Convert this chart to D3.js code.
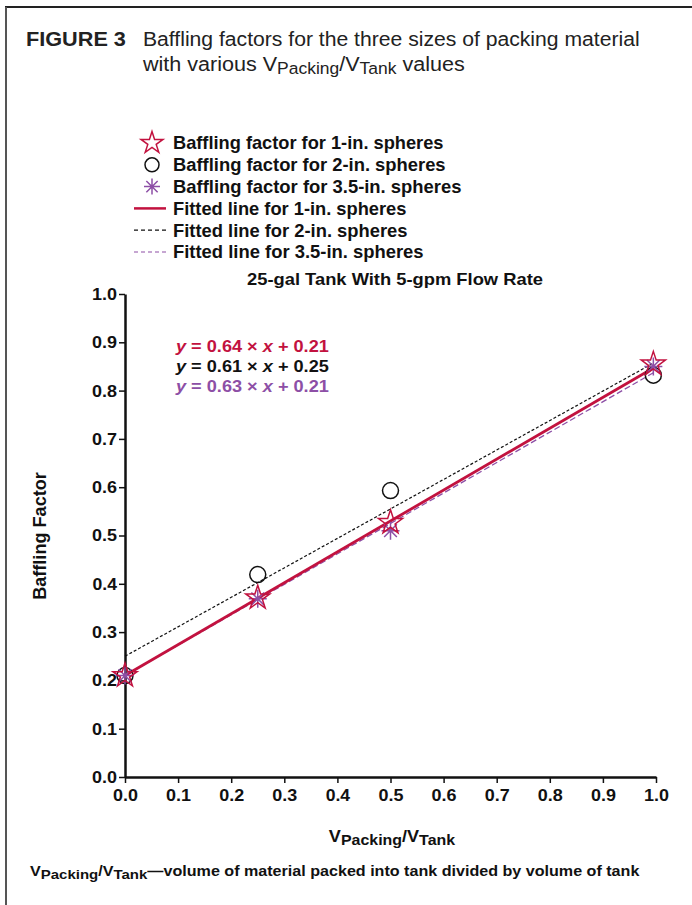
<!DOCTYPE html>
<html>
<head>
<meta charset="utf-8">
<script src="https://cdn.jsdelivr.net/npm/d3@7"></script>
<style>
  html, body { margin: 0; padding: 0; background: #fff; }
  svg { display: block; font-family: "Liberation Sans", Arial, Helvetica, sans-serif; }
</style>
</head>
<body>
<svg id="chart" width="692" height="905"></svg>
<script>
// Packing volume fractions (V_Packing / V_Tank)
const fractions = [0, 0.25, 0.5, 0.995];
// Measured baffling factors per sphere size
const bf1in  = [0.21, 0.371, 0.527, 0.855];
const bf2in  = [0.21, 0.419, 0.593, 0.832];
const bf35in = [0.21, 0.369, 0.510, 0.850];
// Fitted line coefficients [slope, intercept]
const fit1in  = [0.64, 0.21];
const fit2in  = [0.61, 0.25];
const fit35in = [0.63, 0.21];
const xTicks = [0, 0.1, 0.2, 0.3, 0.4, 0.5, 0.6, 0.7, 0.8, 0.9, 1.0];
const yTicks = [0, 0.1, 0.2, 0.3, 0.4, 0.5, 0.6, 0.7, 0.8, 0.9, 1.0];

const RED = "#c2123f";
const PURPLE = "#8d4fa6";
const BLACK = "#111";

const svg = d3.select("#chart");

// Widen a text element horizontally (the typeface is set wide) around an anchor x.
function widen(sel, width, ax) {
  const w = sel.node().getBBox().width;
  const k = width / w;
  sel.attr("transform", `translate(${ax},0) scale(${k},1) translate(${-ax},0)`);
  return sel;
}

// frame
svg.append("line").attr("x1", 5).attr("x2", 692).attr("y1", 7).attr("y2", 7)
  .attr("stroke", "#222").attr("stroke-width", 2);
svg.append("line").attr("x1", 6).attr("x2", 6).attr("y1", 7).attr("y2", 905)
  .attr("stroke", "#555").attr("stroke-width", 2);

// figure caption
const capA = svg.append("text").attr("x", 26).attr("y", 46).attr("font-size", 21)
  .attr("font-weight", "bold").attr("fill", "#222").text("FIGURE 3");
widen(capA, 100, 26);
const capB = svg.append("text").attr("x", 143).attr("y", 46).attr("font-size", 21).attr("fill", "#222")
  .text("Baffling factors for the three sizes of packing material");
widen(capB, 497, 143);
const cap2 = svg.append("text").attr("x", 143).attr("y", 71).attr("font-size", 21).attr("fill", "#222");
cap2.append("tspan").text("with various V");
cap2.append("tspan").attr("font-size", 17).attr("dy", 3).text("Packing");
cap2.append("tspan").attr("dy", -3).text("/V");
cap2.append("tspan").attr("font-size", 17).attr("dy", 3).text("Tank");
cap2.append("tspan").attr("dy", -3).text(" values");
widen(cap2, 323, 143);

// scales
const x = d3.scaleLinear().domain([0, 1]).range([125, 656]);
const y = d3.scaleLinear().domain([0, 1]).range([777, 294]);

// axes
const fmt = d3.format(".1f");
const gx = svg.append("g").attr("transform", "translate(0,777)")
  .call(d3.axisBottom(x).tickValues(xTicks).tickFormat(fmt).tickSize(6).tickSizeOuter(0));
const gy = svg.append("g").attr("transform", "translate(125,0)")
  .call(d3.axisLeft(y).tickValues(yTicks).tickFormat(fmt).tickSize(6).tickSizeOuter(0));
[gx, gy].forEach(g => {
  g.select(".domain").attr("stroke", "#111").attr("stroke-width", 2.5);
  g.selectAll(".tick line").attr("stroke", "#111").attr("stroke-width", 1.5);
  g.selectAll(".tick text").attr("fill", "#111").attr("font-size", 17)
    .attr("font-weight", "bold").attr("font-family", "Liberation Sans, Arial, sans-serif");
});
gx.selectAll(".tick text").attr("dy", "0").attr("y", 24).each(function () {
  widen(d3.select(this), 25, 0);
});
gy.selectAll(".tick text").attr("x", -8).each(function () {
  widen(d3.select(this), 25, -8);
});

// axis titles
const yt = svg.append("text").attr("x", 0).attr("y", 0)
  .attr("text-anchor", "middle").attr("font-size", 17.5).attr("font-weight", "bold").attr("fill", "#111")
  .text("Baffling Factor");
const ytw = yt.node().getBBox().width;
yt.attr("transform", `translate(46,536) rotate(-90) scale(${128 / ytw},1)`);

const xt = svg.append("text").attr("x", 392).attr("y", 842).attr("text-anchor", "middle")
  .attr("font-size", 17).attr("font-weight", "bold").attr("fill", "#111");
xt.append("tspan").text("V");
xt.append("tspan").attr("font-size", 15).attr("dy", 3).text("Packing");
xt.append("tspan").attr("dy", -3).text("/V");
xt.append("tspan").attr("font-size", 15).attr("dy", 3).text("Tank");
widen(xt, 127, 392);

// footnote
const fn = svg.append("text").attr("x", 30).attr("y", 876).attr("font-size", 14.5)
  .attr("font-weight", "bold").attr("fill", "#111");
fn.append("tspan").text("V");
fn.append("tspan").attr("font-size", 13.5).attr("dy", 3).text("Packing");
fn.append("tspan").attr("dy", -3).text("/V");
fn.append("tspan").attr("font-size", 13.5).attr("dy", 3).text("Tank");
fn.append("tspan").attr("dy", -3).text("\u2014volume of material packed into tank divided by volume of tank");
widen(fn, 611, 30);

// chart subtitle
const sub = svg.append("text").attr("x", 395).attr("y", 285).attr("text-anchor", "middle")
  .attr("font-size", 16.5).attr("font-weight", "bold").attr("fill", "#111")
  .text("25-gal Tank With 5-gpm Flow Rate");
widen(sub, 296, 395);

// fitted lines
const fitLine = (c) => d3.line()([[x(0), y(c[1])], [x(0.995), y(c[0] * 0.995 + c[1])]]);
svg.append("path").attr("d", fitLine(fit2in)).attr("stroke", BLACK).attr("stroke-width", 1.2)
  .attr("stroke-dasharray", "3,2").attr("fill", "none");
svg.append("path").attr("d", fitLine(fit35in)).attr("stroke", PURPLE).attr("stroke-width", 1.3)
  .attr("stroke-dasharray", "6,3").attr("fill", "none");
svg.append("path").attr("d", fitLine(fit1in)).attr("stroke", RED).attr("stroke-width", 2.8)
  .attr("fill", "none");

// marker symbols
const asterPath = (r) => {
  let p = "";
  for (let i = 0; i < 4; i++) {
    const a = i * Math.PI / 4;
    const dx = r * Math.sin(a), dy = -r * Math.cos(a);
    p += `M${-dx},${-dy}L${dx},${dy}`;
  }
  return p;
};
function drawStar(g, cx, cy, size) {
  g.append("path").attr("d", d3.symbol().type(d3.symbolStar).size(size)())
    .attr("transform", `translate(${cx},${cy})`)
    .attr("fill", "none").attr("stroke", RED).attr("stroke-width", 1.5);
}
function drawCircle(g, cx, cy, r) {
  g.append("circle").attr("cx", cx).attr("cy", cy).attr("r", r)
    .attr("fill", "none").attr("stroke", BLACK).attr("stroke-width", 1.5);
}
function drawAster(g, cx, cy, r) {
  g.append("path").attr("d", asterPath(r)).attr("transform", `translate(${cx},${cy})`)
    .attr("fill", "none").attr("stroke", PURPLE).attr("stroke-width", 1.5);
}

const marks = svg.append("g");
fractions.forEach((f, i) => drawCircle(marks, x(f), y(bf2in[i]), 8));
fractions.forEach((f, i) => drawAster(marks, x(f), y(bf35in[i]), 9));
fractions.forEach((f, i) => drawStar(marks, x(f), y(bf1in[i]), 180));

// equations
const eqs = [
  { c: fit1in, color: RED, yy: 352 },
  { c: fit2in, color: BLACK, yy: 372 },
  { c: fit35in, color: PURPLE, yy: 392 }
];
eqs.forEach(e => {
  const t = svg.append("text").attr("x", 176).attr("y", e.yy).attr("font-size", 17)
    .attr("font-weight", "bold").attr("fill", e.color);
  t.append("tspan").attr("font-style", "italic").text("y");
  t.append("tspan").text(` = ${e.c[0].toFixed(2)} \u00d7 `);
  t.append("tspan").attr("font-style", "italic").text("x");
  t.append("tspan").text(` + ${e.c[1].toFixed(2)}`);
  widen(t, 154, 176);
});

// legend
const legendItems = [
  { label: "Baffling factor for 1-in. spheres", kind: "star", w: 271 },
  { label: "Baffling factor for 2-in. spheres", kind: "circle", w: 273 },
  { label: "Baffling factor for 3.5-in. spheres", kind: "aster", w: 289 },
  { label: "Fitted line for 1-in. spheres", kind: "line1", w: 234 },
  { label: "Fitted line for 2-in. spheres", kind: "line2", w: 235 },
  { label: "Fitted line for 3.5-in. spheres", kind: "line3", w: 251 }
];
const lg = svg.append("g");
legendItems.forEach((d, i) => {
  const cy = 143 + i * 21.8;
  if (d.kind === "star") drawStar(lg, 152, cy, 150);
  if (d.kind === "circle") drawCircle(lg, 152, cy, 7);
  if (d.kind === "aster") drawAster(lg, 152, cy, 8);
  if (d.kind === "line1") lg.append("line").attr("x1", 134).attr("x2", 166).attr("y1", cy).attr("y2", cy)
    .attr("stroke", RED).attr("stroke-width", 2.5);
  if (d.kind === "line2") lg.append("line").attr("x1", 134).attr("x2", 166).attr("y1", cy).attr("y2", cy)
    .attr("stroke", BLACK).attr("stroke-width", 1.2).attr("stroke-dasharray", "4,3");
  if (d.kind === "line3") lg.append("line").attr("x1", 134).attr("x2", 166).attr("y1", cy).attr("y2", cy)
    .attr("stroke", PURPLE).attr("stroke-width", 1.2).attr("stroke-dasharray", "4,3");
  const t = lg.append("text").attr("x", 173).attr("y", cy + 6.5).attr("font-size", 17.5).attr("font-weight", "bold")
    .attr("fill", "#111").text(d.label);
  widen(t, d.w, 173);
});
</script>
</body>
</html>
